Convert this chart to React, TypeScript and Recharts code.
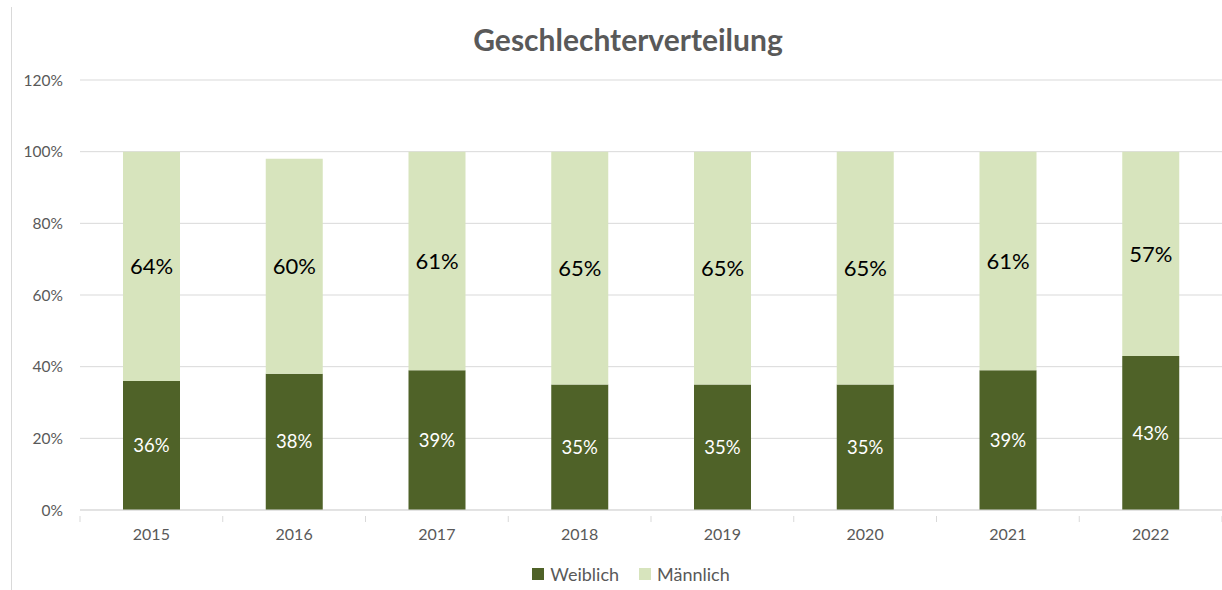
import { BarChart, Bar, XAxis, YAxis, CartesianGrid, Legend, LabelList } from 'recharts';

const years = ['2015', '2016', '2017', '2018', '2019', '2020', '2021', '2022'];
const weiblich = [36, 38, 39, 35, 35, 35, 39, 43];
const maennlich = [64, 60, 61, 65, 65, 65, 61, 57];
const yTicks = [0, 20, 40, 60, 80, 100, 120];

const DARK = '#4F6228';
const LIGHT = '#D7E4BD';
const GREY = '#595959';
const FONT = 'Lato, "Open Sans", sans-serif';

const data = years.map((y, i) => ({ year: y, Weiblich: weiblich[i], Männlich: maennlich[i] }));

function YearTick(props: any) {
  const { x, y, payload, index, width, visibleTicksCount } = props;
  const band = width / visibleTicksCount;
  const axisY = y - 8;
  return (
    <g>
      <line x1={x - band / 2} x2={x - band / 2} y1={axisY} y2={axisY + 6} stroke="#d9d9d9" />
      {index === visibleTicksCount - 1 && (
        <line x1={x + band / 2} x2={x + band / 2} y1={axisY} y2={axisY + 6} stroke="#d9d9d9" />
      )}
      <text x={x} y={y + 16} textAnchor="middle" fill={GREY} fontSize={16} fontFamily={FONT}>
        {payload.value}
      </text>
    </g>
  );
}

function LegendBox() {
  const items = [
    { name: 'Weiblich', color: DARK },
    { name: 'Männlich', color: LIGHT },
  ];
  return (
    <div style={{ display: 'flex', justifyContent: 'center', gap: 20, fontFamily: FONT, fontSize: 18, color: GREY }}>
      {items.map((it) => (
        <span key={it.name} style={{ display: 'flex', alignItems: 'center', gap: 6 }}>
          <span style={{ width: 12, height: 12, background: it.color, display: 'inline-block' }} />
          {it.name}
        </span>
      ))}
    </div>
  );
}

export default function App() {
  return (
    <div style={{ position: 'absolute', left: 0, top: 0, width: 1222, height: 590, background: '#fff' }}>
      <div style={{ position: 'absolute', left: 11, top: 7, width: 1, height: 583, background: '#d9d9d9' }} />
      <div
        style={{
          position: 'absolute',
          left: 628,
          top: 21,
          transform: 'translateX(-50%)',
          fontFamily: FONT,
          fontWeight: 700,
          fontSize: 30,
          color: GREY,
          whiteSpace: 'nowrap',
        }}
      >
        Geschlechterverteilung
      </div>
      <BarChart width={1222} height={590} data={data} margin={{ top: 80, right: 0, bottom: 12, left: 0 }}>
        <CartesianGrid vertical={false} stroke="#d9d9d9" />
        <XAxis
          dataKey="year"
          axisLine={{ stroke: '#d9d9d9' }}
          tickLine={false}
          tick={<YearTick />}
          tickMargin={8}
          height={46}
        />
        <YAxis
          domain={[0, 120]}
          ticks={yTicks}
          axisLine={false}
          tickLine={false}
          width={80}
          tickMargin={11}
          tickFormatter={(v) => `${v}%`}
          tick={{ fill: GREY, fontSize: 15.5, fontFamily: FONT }}
        />
        <Legend
          verticalAlign="bottom"
          content={<LegendBox />}
          wrapperStyle={{ left: 0, width: 1262, bottom: 5 }}
        />
        <Bar dataKey="Weiblich" stackId="a" fill={DARK} barSize={57} isAnimationActive={false}>
          <LabelList
            dataKey="Weiblich"
            position="center"
            formatter={(v: any) => `${v}%`}
            fill="#fff"
            fontSize={18.5}
            fontFamily={FONT}
          />
        </Bar>
        <Bar dataKey="Männlich" stackId="a" fill={LIGHT} barSize={57} isAnimationActive={false}>
          <LabelList
            dataKey="Männlich"
            position="center"
            formatter={(v: any) => `${v}%`}
            fill="#000"
            fontSize={22}
            fontFamily={FONT}
          />
        </Bar>
      </BarChart>
    </div>
  );
}
